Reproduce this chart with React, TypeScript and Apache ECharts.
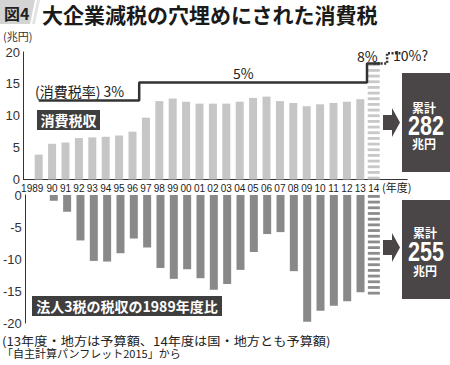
import React, { useEffect, useRef } from 'react';
import * as echarts from 'echarts';

// ---- data ----
const years = ['1989','90','91','92','93','94','95','96','97','98','99','00','01','02','03','04','05','06','07','08','09','10','11','12','13','14'];
const extraSlots = ['15', '16']; // empty slots to the right of 2014 (axis extension)
const categories = [...years, ...extraSlots];

// consumption tax revenue (trillion yen), 1989-2013 settled
const consumptionTax = [3.9, 5.6, 5.8, 6.5, 6.6, 6.7, 6.9, 7.5, 9.7, 12.3, 12.7, 12.2, 11.9, 11.9, 11.9, 12.2, 12.8, 13.0, 12.3, 12.0, 11.5, 11.8, 12.0, 12.2, 12.6];
const consumptionTax2014Budget = 17.7;

// corporate 3 taxes, difference vs 1989 (trillion yen), 1989-2013
const corpTaxDiff = [0, -0.9, -2.6, -7.1, -10.3, -10.4, -9.1, -6.8, -8.2, -11.4, -13.1, -11.6, -13.0, -14.8, -13.9, -11.7, -8.9, -6.1, -5.8, -11.9, -19.8, -18.1, -17.3, -16.6, -15.2];
const corpTax2014Budget = -15.1;

// tax-rate step line levels (drawn in axis units): 3% 1989-96, 5% 1997-2013, 8% 2014, 10%? next
const rateLevels = [12.4, 12.4, 12.4, 12.4, 12.4, 12.4, 12.4, 12.4, 15.2, 15.2, 15.2, 15.2, 15.2, 15.2, 15.2, 15.2, 15.2, 15.2, 15.2, 15.2, 15.2, 15.2, 15.2, 15.2, 15.2, 18.2];
const rateFuture = [18.2, 19.8]; // 2014 -> next

const totalConsumption = '282';
const totalCorp = '255';

const CJK = "'Noto Sans CJK JP', sans-serif";
const SANS = "'Liberation Sans', Arial, sans-serif";
const DARK = '#4a4546';

function pad(arr: (number | string)[], len: number) {
  const out: (number | string)[] = [];
  for (let i = 0; i < len; i++) out.push(i < arr.length ? arr[i] : '-');
  return out;
}
function only(idx: number[], vals: number[], len: number) {
  const out: (number | string)[] = [];
  for (let i = 0; i < len; i++) {
    const k = idx.indexOf(i);
    out.push(k >= 0 ? vals[k] : '-');
  }
  return out;
}

export default function App() {
  const ref = useRef<HTMLDivElement>(null);
  useEffect(() => {
    if (!ref.current) return;
    const chart = echarts.init(ref.current, undefined, { renderer: 'svg' });
    const n = categories.length;
    const i2014 = years.length - 1;

    const yAxisCommon = {
      type: 'value',
      interval: 5,
      offset: 9,
      axisLine: { show: true, lineStyle: { color: '#333', width: 1 } },
      axisTick: { show: false },
      splitLine: { show: false },
      axisLabel: { margin: 3, fontSize: 13, color: '#333', fontFamily: SANS },
    };

    const text = (x: number, y: number, t: string, o: any = {}) => ({
      type: 'text',
      x,
      y,
      scaleX: o.scaleX || 1,
      style: {
        text: t,
        fill: o.fill || '#222',
        fontSize: o.fontSize || 13,
        fontWeight: o.fontWeight || 'normal',
        fontFamily: o.fontFamily || CJK,
        lineHeight: o.lineHeight,
        textAlign: o.align || 'left',
        textVerticalAlign: 'middle',
      },
      z: 100,
    });

    const option: any = {
      animation: false,
      backgroundColor: '#fff',
      textStyle: { fontFamily: CJK },
      grid: [
        { left: 32, top: 52, width: 375.2, height: 127.5 },
        { left: 32, top: 195, width: 375.2, height: 128 },
      ],
      xAxis: [
        {
          type: 'category',
          gridIndex: 0,
          data: categories,
          axisLine: { show: true, lineStyle: { color: '#333', width: 1 } },
          axisTick: { show: false },
          axisLabel: {
            interval: 0,
            margin: 3,
            fontSize: 10,
            lineHeight: 11,
            color: '#222',
            fontFamily: SANS,
            formatter: (v: string, i: number) => (i === 0 ? '{first|' + v + '}' : i < years.length ? v : ''),
            rich: { first: { padding: [0, 13, 0, 0], fontSize: 10, lineHeight: 11, color: '#222', fontFamily: SANS } },
          },
        },
        { type: 'category', gridIndex: 1, data: categories, show: false },
      ],
      yAxis: [
        { ...yAxisCommon, gridIndex: 0, min: 0, max: 20 },
        { ...yAxisCommon, gridIndex: 1, min: -20, max: 0 },
      ],
      series: [
        {
          type: 'bar', xAxisIndex: 0, yAxisIndex: 0, barWidth: 8,
          data: pad(consumptionTax, n), itemStyle: { color: '#c6c6c6' },
        },
        {
          type: 'pictorialBar', xAxisIndex: 0, yAxisIndex: 0,
          symbol: 'rect', symbolRepeat: true, symbolSize: [12, 2.8], symbolMargin: 1.5,
          symbolPosition: 'start',
          data: only([i2014], [consumptionTax2014Budget], n), itemStyle: { color: '#c8c8c8' },
        },
        {
          type: 'line', xAxisIndex: 0, yAxisIndex: 0, step: 'middle', symbol: 'none',
          data: pad(rateLevels, n), lineStyle: { color: '#333', width: 2.5 }, z: 5,
        },
        {
          type: 'line', xAxisIndex: 0, yAxisIndex: 0, step: 'end', symbol: 'none',
          data: only([i2014, i2014 + 1], rateFuture, n), lineStyle: { color: '#333', width: 2.5, type: [2, 1.5] }, z: 5,
        },
        {
          type: 'bar', xAxisIndex: 1, yAxisIndex: 1, barWidth: 8,
          data: pad(corpTaxDiff, n), itemStyle: { color: '#898989' },
        },
        {
          type: 'pictorialBar', xAxisIndex: 1, yAxisIndex: 1,
          symbol: 'rect', symbolRepeat: true, symbolSize: [12, 2.8], symbolMargin: 1.5,
          symbolPosition: 'start',
          data: only([i2014], [corpTax2014Budget], n), itemStyle: { color: '#8c8c8c' },
        },
      ],
      graphic: [
        // title tab
        { type: 'polygon', shape: { points: [[0, 0], [35, 0], [30, 24], [0, 24]] }, style: { fill: '#d4d4d4' } },
        { type: 'polygon', shape: { points: [[37, 0], [40, 0], [35, 24], [32, 24]] }, style: { fill: '#e4e4e4' } },
        text(4, 13, '図4', { fontSize: 16, fontWeight: 'bold', fill: '#222', lineHeight: 18 }),
        text(42, 13.5, '大企業減税の穴埋めにされた消費税', { fontSize: 21, fontWeight: 'bold', fill: '#1a1a1a', lineHeight: 22 }),
        text(3, 36, '(兆円)', { fontSize: 11, fill: '#333' }),
        // x axis extension to the y axis
        { type: 'line', shape: { x1: 23, y1: 179.5, x2: 32.5, y2: 179.5 }, style: { stroke: '#333', lineWidth: 1 } },
        text(382, 187, '(年度)', { fontSize: 11, fill: '#222' }),
        // tax-rate labels
        text(35, 91, '(消費税率) 3%', { fontSize: 14, fill: '#222' }),
        text(233, 73, '5%', { fontSize: 14, fill: '#222' }),
        text(357, 56, '8%', { fontSize: 14, fill: '#222' }),
        text(393, 55, '10%?', { fontSize: 14, fill: '#222' }),
        // series name boxes
        { type: 'rect', shape: { x: 37, y: 110, width: 63, height: 20 }, style: { fill: '#3e3e3e' }, z: 90 },
        text(68.5, 120, '消費税収', { fontSize: 14, fontWeight: 'bold', fill: '#fff', align: 'center' }),
        { type: 'rect', shape: { x: 32, y: 296, width: 190, height: 20 }, style: { fill: '#3e3e3e' }, z: 90 },
        text(127, 306, '法人3税の税収の1989年度比', { fontSize: 14, fontWeight: 'bold', fill: '#fff', align: 'center' }),
        // arrows & totals
        { type: 'polygon', shape: { points: [[383, 115], [392, 115], [392, 108], [400, 122.5], [392, 137], [392, 130], [383, 130]] }, style: { fill: DARK } },
        { type: 'rect', shape: { x: 402, y: 73, width: 48, height: 99 }, style: { fill: DARK } },
        text(424, 107.5, '累計', { fontSize: 12, fontWeight: 'bold', fill: '#fff', align: 'center', lineHeight: 12 }),
        text(426, 126, totalConsumption, { fontSize: 27, fontWeight: 'bold', fill: '#fff', align: 'center', fontFamily: SANS, scaleX: 0.8, lineHeight: 21 }),
        text(424, 143.5, '兆円', { fontSize: 12, fontWeight: 'bold', fill: '#fff', align: 'center', lineHeight: 12 }),
        { type: 'polygon', shape: { points: [[383, 240], [392, 240], [392, 233], [400, 247.5], [392, 262], [392, 255], [383, 255]] }, style: { fill: DARK } },
        { type: 'rect', shape: { x: 402, y: 200, width: 48, height: 99 }, style: { fill: DARK } },
        text(425, 232, '累計', { fontSize: 12, fontWeight: 'bold', fill: '#fff', align: 'center', lineHeight: 12 }),
        text(426, 252, totalCorp, { fontSize: 27, fontWeight: 'bold', fill: '#fff', align: 'center', fontFamily: SANS, scaleX: 0.8, lineHeight: 21 }),
        text(425, 270.5, '兆円', { fontSize: 12, fontWeight: 'bold', fill: '#fff', align: 'center', lineHeight: 12 }),
        // footnotes
        text(2, 341, '(13年度・地方は予算額、14年度は国・地方とも予算額)', { fontSize: 12, fill: '#222', scaleX: 1.1, lineHeight: 12 }),
        text(2, 353, '「自主計算パンフレット2015」から', { fontSize: 11, fill: '#222', lineHeight: 12 }),
      ],
    };
    chart.setOption(option);
    return () => chart.dispose();
  }, []);
  return <div ref={ref} style={{ position: 'fixed', left: 0, top: 0, width: 450, height: 365, background: '#fff' }} />;
}
